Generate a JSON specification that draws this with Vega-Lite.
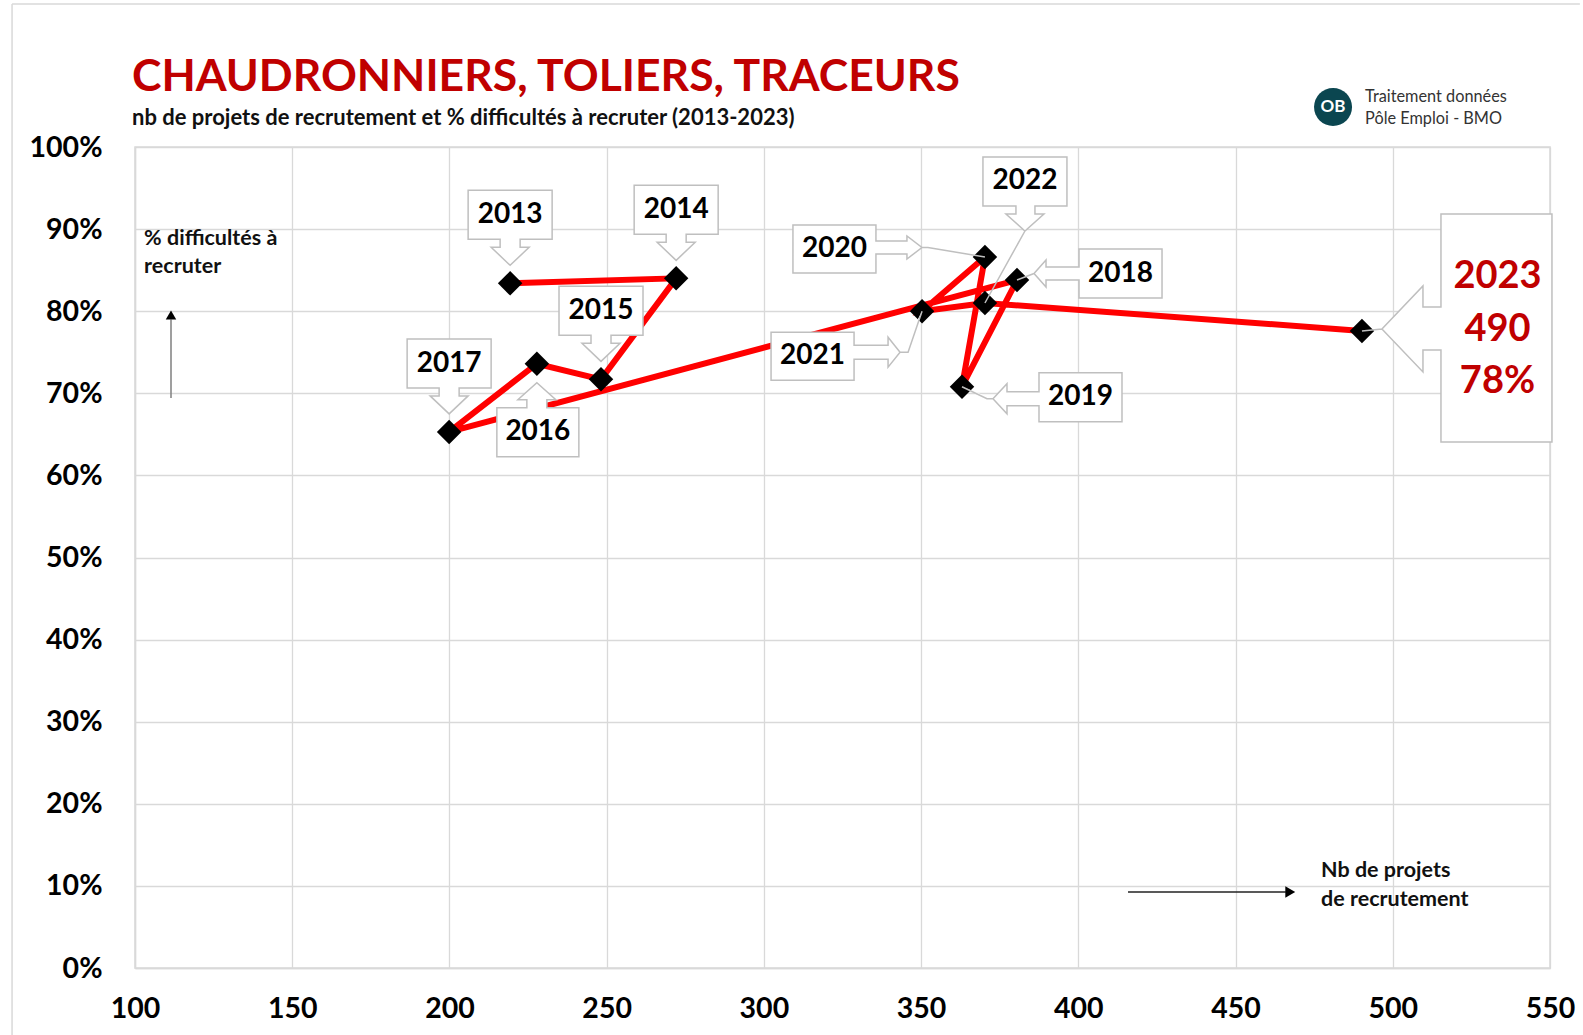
{
  "$schema": "https://vega.github.io/schema/vega-lite/v6.json",
  "autosize": "none",
  "width": 1415,
  "height": 821,
  "padding": {"left": 135, "top": 147, "right": 33, "bottom": 67},
  "background": "white",
  "title": {
    "text": "CHAUDRONNIERS, TOLIERS, TRACEURS",
    "subtitle": "nb de projets de recrutement et % difficultés à recruter (2013-2023)",
    "anchor": "start",
    "frame": "group",
    "font": "Lato",
    "fontSize": 44.5,
    "fontWeight": "bold",
    "color": "#c00000",
    "subtitleFont": "Lato",
    "subtitleFontSize": 22,
    "subtitleFontWeight": "bold",
    "subtitleColor": "#111111",
    "subtitlePadding": 8,
    "offset": -127,
    "dx": -3
  },
  "config": {
    "view": {"stroke": "#d9d9d9", "strokeWidth": 1.5},
    "axis": {
      "labelFont": "Lato",
      "labelFontSize": 28.5,
      "labelFontWeight": "bold",
      "labelColor": "#000000",
      "labelFlush": false,
      "ticks": false,
      "domainColor": "#d9d9d9",
      "domainWidth": 1.5,
      "gridColor": "#d9d9d9",
      "gridWidth": 1.3,
      "title": null
    }
  },
  "datasets": {
    "bmo": [
      {"year": 2013, "projets": 219.3, "difficulte": 0.834},
      {"year": 2014, "projets": 272.1, "difficulte": 0.840},
      {"year": 2015, "projets": 248.2, "difficulte": 0.717},
      {"year": 2016, "projets": 227.8, "difficulte": 0.736},
      {"year": 2017, "projets": 199.9, "difficulte": 0.653},
      {"year": 2018, "projets": 380.5, "difficulte": 0.838},
      {"year": 2019, "projets": 363.0, "difficulte": 0.708},
      {"year": 2020, "projets": 370.3, "difficulte": 0.866},
      {"year": 2021, "projets": 350.3, "difficulte": 0.800},
      {"year": 2022, "projets": 370.3, "difficulte": 0.810},
      {"year": 2023, "projets": 490.2, "difficulte": 0.776}
    ],
    "one": [{"k": 1}]
  },
  "layer": [
    {
      "data": {"name": "bmo"},
      "encoding": {
        "x": {
          "field": "projets", "type": "quantitative",
          "scale": {"domain": [100, 550], "nice": false, "zero": false},
          "axis": {"values": [100, 150, 200, 250, 300, 350, 400, 450, 500, 550], "labelPadding": 26, "grid": true}
        },
        "y": {
          "field": "difficulte", "type": "quantitative",
          "scale": {"domain": [0, 1], "nice": false},
          "axis": {"values": [0, 0.1, 0.2, 0.3, 0.4, 0.5, 0.6, 0.7, 0.8, 0.9, 1], "format": ".0%", "labelPadding": 33, "grid": true}
        }
      },
      "layer": [
        {
          "mark": {"type": "line", "color": "#ff0000", "strokeWidth": 6},
          "encoding": {"order": {"field": "year", "type": "quantitative"}}
        },
        {
          "mark": {"type": "point", "shape": "diamond", "filled": true, "color": "#000000", "size": 600, "opacity": 1}
        },
        {
          "mark": {"type": "point", "filled": true, "fill": "#ffffff", "stroke": "#bfbfbf", "strokeWidth": 1.5, "size": 4, "opacity": 1, "fillOpacity": 1, "strokeOpacity": 1},
          "encoding": {
            "shape": {
              "field": "year", "type": "nominal", "legend": null,
              "scale": {
                "domain": [2013, 2014, 2015, 2016, 2017, 2018, 2019, 2020, 2021, 2022, 2023],
                "range": [
                  "M-42,-93L42,-93L42,-44L10,-44L10,-36L19,-36L0,-18L-19,-36L-10,-36L-10,-44L-42,-44Z",
                  "M-42,-93L42,-93L42,-44L10,-44L10,-36L19,-36L0,-18L-19,-36L-10,-36L-10,-44L-42,-44Z",
                  "M-42,-93L42,-93L42,-44L10,-44L10,-36L19,-36L0,-18L-19,-36L-10,-36L-10,-44L-42,-44Z",
                  "M-40,93L42,93L42,44L10,44L10,36L19,36L0,19L-19,36L-10,36L-10,44L-40,44Z",
                  "M-42,-93L42,-93L42,-44L10,-44L10,-36L19,-36L0,-18L-19,-36L-10,-36L-10,-44L-42,-44Z",
                  "M62,-31L145,-31L145,18L62,18L62,0L29,0L29,7L17,-6.5L29,-20L29,-13L62,-13Z M17,-6.5L0,0",
                  "M77,-14L160,-14L160,35L77,35L77,19L45,19L45,27L31,12L45,-3L45,5L77,5Z M31,12L25,12L0,0",
                  "M-192,-32L-109,-32L-109,-16L-78,-16L-78,-21L-63,-9.5L-78,2L-78,-3L-109,-3L-109,16L-192,16Z M-63,-9.5L-57,-9.5L0,0",
                  "M-151,21L-68,21L-68,34L-34,34L-34,26L-22,41L-34,56L-34,48L-68,48L-68,69L-151,69Z M-22,41L-14,41L0,0",
                  "M-2,-146L82,-146L82,-97L50,-97L50,-89L59,-89L40,-72L21,-89L31,-89L31,-97L-2,-97Z M40,-72L0,0",
                  "M79,-117L190,-117L190,111L79,111L79,19L61,19L61,41L20,-2L61,-45L61,-24L79,-24Z M20,-2L0,0"
                ]
              }
            }
          }
        },
        {
          "transform": [{"filter": {"field": "year", "oneOf": [2013, 2014, 2015, 2017]}}],
          "mark": {"type": "text", "font": "Lato", "fontSize": 28, "fontWeight": "bold", "color": "#000", "baseline": "middle", "align": "center", "dy": -68},
          "encoding": {"text": {"field": "year", "type": "nominal"}}
        },
        {
          "transform": [{"filter": "datum.year == 2016"}],
          "mark": {"type": "text", "font": "Lato", "fontSize": 28, "fontWeight": "bold", "color": "#000", "baseline": "middle", "align": "center", "dx": 1, "dy": 68},
          "encoding": {"text": {"field": "year", "type": "nominal"}}
        },
        {
          "transform": [{"filter": "datum.year == 2018"}],
          "mark": {"type": "text", "font": "Lato", "fontSize": 28, "fontWeight": "bold", "color": "#000", "baseline": "middle", "align": "center", "dx": 103.5, "dy": -6.5},
          "encoding": {"text": {"field": "year", "type": "nominal"}}
        },
        {
          "transform": [{"filter": "datum.year == 2019"}],
          "mark": {"type": "text", "font": "Lato", "fontSize": 28, "fontWeight": "bold", "color": "#000", "baseline": "middle", "align": "center", "dx": 118.5, "dy": 10.5},
          "encoding": {"text": {"field": "year", "type": "nominal"}}
        },
        {
          "transform": [{"filter": "datum.year == 2020"}],
          "mark": {"type": "text", "font": "Lato", "fontSize": 28, "fontWeight": "bold", "color": "#000", "baseline": "middle", "align": "center", "dx": -150.5, "dy": -8},
          "encoding": {"text": {"field": "year", "type": "nominal"}}
        },
        {
          "transform": [{"filter": "datum.year == 2021"}],
          "mark": {"type": "text", "font": "Lato", "fontSize": 28, "fontWeight": "bold", "color": "#000", "baseline": "middle", "align": "center", "dx": -109.5, "dy": 45},
          "encoding": {"text": {"field": "year", "type": "nominal"}}
        },
        {
          "transform": [{"filter": "datum.year == 2022"}],
          "mark": {"type": "text", "font": "Lato", "fontSize": 28, "fontWeight": "bold", "color": "#000", "baseline": "middle", "align": "center", "dx": 40, "dy": -121.5},
          "encoding": {"text": {"field": "year", "type": "nominal"}}
        },
        {
          "transform": [{"filter": "datum.year == 2023"}],
          "mark": {"type": "text", "font": "Lato", "fontSize": 38, "fontWeight": "bold", "color": "#c00000", "baseline": "middle", "align": "center", "dx": 135.5, "dy": -54},
          "encoding": {"text": {"field": "year", "type": "nominal"}}
        },
        {
          "transform": [{"filter": "datum.year == 2023"}],
          "mark": {"type": "text", "font": "Lato", "fontSize": 38, "fontWeight": "bold", "color": "#c00000", "baseline": "middle", "align": "center", "dx": 135.5, "dy": -1},
          "encoding": {"text": {"field": "projets", "type": "quantitative", "format": ".0f"}}
        },
        {
          "transform": [{"filter": "datum.year == 2023"}],
          "mark": {"type": "text", "font": "Lato", "fontSize": 38, "fontWeight": "bold", "color": "#c00000", "baseline": "middle", "align": "center", "dx": 135.5, "dy": 51},
          "encoding": {"text": {"field": "difficulte", "type": "quantitative", "format": ".0%"}}
        }
      ]
    },
    {
      "data": {"name": "one"},
      "mark": {"type": "rule", "color": "#d9d9d9", "strokeWidth": 1.5},
      "encoding": {"x": {"datum": 60.9, "type": "quantitative"}, "x2": {"datum": 559.5}, "y": {"datum": 1.1742, "type": "quantitative"}}
    },
    {
      "data": {"name": "one"},
      "mark": {"type": "rule", "color": "#d9d9d9", "strokeWidth": 1.5},
      "encoding": {"x": {"datum": 60.9, "type": "quantitative"}, "y": {"datum": 1.1742, "type": "quantitative"}, "y2": {"datum": -0.0816}}
    },
    {
      "data": {"name": "one"},
      "mark": {"type": "text", "font": "Lato", "fontSize": 21.5, "fontWeight": "bold", "color": "#111", "align": "left", "baseline": "alphabetic", "lineHeight": 28, "text": ["% difficultés à", "recruter"]},
      "encoding": {"x": {"datum": 102.9, "type": "quantitative"}, "y": {"datum": 0.8806, "type": "quantitative"}}
    },
    {
      "data": {"name": "one"},
      "mark": {"type": "rule", "color": "#7f7f7f", "strokeWidth": 1.5},
      "encoding": {"x": {"datum": 111.45, "type": "quantitative"}, "y": {"datum": 0.6943, "type": "quantitative"}, "y2": {"datum": 0.79}}
    },
    {
      "data": {"name": "one"},
      "mark": {"type": "point", "shape": "triangle-up", "filled": true, "color": "#000", "size": 110, "opacity": 1},
      "encoding": {"x": {"datum": 111.45, "type": "quantitative"}, "y": {"datum": 0.7954, "type": "quantitative"}}
    },
    {
      "data": {"name": "one"},
      "mark": {"type": "text", "font": "Lato", "fontSize": 21.5, "fontWeight": "bold", "color": "#111", "align": "left", "baseline": "alphabetic", "lineHeight": 29, "text": ["Nb de projets", "de recrutement"]},
      "encoding": {"x": {"datum": 477.2, "type": "quantitative"}, "y": {"datum": 0.1108, "type": "quantitative"}}
    },
    {
      "data": {"name": "one"},
      "mark": {"type": "rule", "color": "#222", "strokeWidth": 1.5},
      "encoding": {"x": {"datum": 415.8, "type": "quantitative"}, "x2": {"datum": 466}, "y": {"datum": 0.0926, "type": "quantitative"}}
    },
    {
      "data": {"name": "one"},
      "mark": {"type": "point", "shape": "triangle-right", "filled": true, "color": "#000", "size": 130, "opacity": 1},
      "encoding": {"x": {"datum": 467.4, "type": "quantitative"}, "y": {"datum": 0.0926, "type": "quantitative"}}
    },
    {
      "data": {"name": "one"},
      "mark": {"type": "point", "shape": "circle", "filled": true, "color": "#0b4650", "size": 1444, "opacity": 1},
      "encoding": {"x": {"datum": 481.0, "type": "quantitative"}, "y": {"datum": 1.0487, "type": "quantitative"}}
    },
    {
      "data": {"name": "one"},
      "mark": {"type": "text", "font": "Lato", "fontSize": 17, "fontWeight": "bold", "color": "#ffffff", "align": "center", "baseline": "middle", "text": "OB"},
      "encoding": {"x": {"datum": 481.0, "type": "quantitative"}, "y": {"datum": 1.0487, "type": "quantitative"}}
    },
    {
      "data": {"name": "one"},
      "mark": {"type": "text", "font": "Lato", "fontSize": 16.3, "color": "#333333", "align": "left", "baseline": "alphabetic", "lineHeight": 22, "text": ["Traitement données", "Pôle Emploi - BMO"]},
      "encoding": {"x": {"datum": 491.2, "type": "quantitative"}, "y": {"datum": 1.0548, "type": "quantitative"}}
    }
  ]
}
